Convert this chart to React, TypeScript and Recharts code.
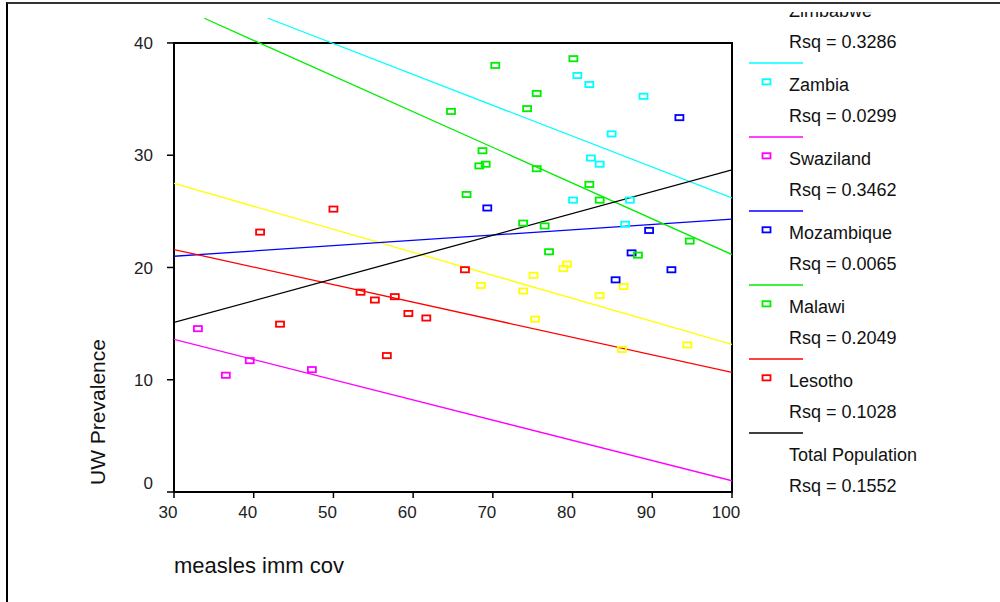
import React from 'react'
import { ComposedChart, Scatter, XAxis, YAxis, ReferenceArea } from 'recharts'

// groups in legend order (top to bottom)
const GROUPS = ['Zimbabwe', 'Zambia', 'Swaziland', 'Mozambique', 'Malawi', 'Lesotho', 'Total Population']
const RSQ = ['0.3286', '0.0299', '0.3462', '0.0065', '0.2049', '0.1028', '0.1552']
const COLORS = ['#ffff00', '#00ffff', '#ff00ff', '#0000ff', '#00ee00', '#ff0000', '#000000']

const X_TICKS = [30, 40, 50, 60, 70, 80, 90, 100]
const Y_TICKS = [0, 10, 20, 30, 40]

// measles imm cov vs UW prevalence, by country
const zimbabwe = [
  { x: 79.3, y: 20.3 }, { x: 78.85, y: 19.9 }, { x: 75.1, y: 19.3 }, { x: 68.5, y: 18.4 },
  { x: 73.8, y: 17.9 }, { x: 86.4, y: 18.3 }, { x: 83.4, y: 17.5 }, { x: 75.3, y: 15.4 },
  { x: 86.2, y: 12.7 }, { x: 94.4, y: 13.1 },
]
const zambia = [
  { x: 80.6, y: 37.1 }, { x: 82.1, y: 36.3 }, { x: 88.9, y: 35.25 }, { x: 84.9, y: 31.9 },
  { x: 82.3, y: 29.75 }, { x: 83.4, y: 29.2 }, { x: 80.06, y: 26.0 }, { x: 87.2, y: 26.0 },
  { x: 86.6, y: 23.85 },
]
const swaziland = [
  { x: 33.0, y: 14.55 }, { x: 39.5, y: 11.7 }, { x: 36.5, y: 10.4 }, { x: 47.3, y: 10.9 },
]
const mozambique = [
  { x: 93.4, y: 33.35 }, { x: 69.3, y: 25.3 }, { x: 89.6, y: 23.3 }, { x: 87.4, y: 21.3 },
  { x: 92.4, y: 19.8 }, { x: 85.4, y: 18.9 },
]
const malawi = [
  { x: 70.3, y: 38.0 }, { x: 80.1, y: 38.6 }, { x: 75.5, y: 35.5 }, { x: 64.75, y: 33.9 },
  { x: 74.3, y: 34.15 }, { x: 68.7, y: 30.4 }, { x: 68.3, y: 29.05 }, { x: 69.1, y: 29.2 },
  { x: 75.5, y: 28.8 }, { x: 82.1, y: 27.4 }, { x: 66.7, y: 26.5 }, { x: 83.4, y: 26.0 },
  { x: 73.8, y: 23.95 }, { x: 76.5, y: 23.7 }, { x: 94.7, y: 22.35 }, { x: 77.05, y: 21.4 },
  { x: 88.2, y: 21.1 },
]
const lesotho = [
  { x: 50.0, y: 25.2 }, { x: 40.8, y: 23.15 }, { x: 66.5, y: 19.8 }, { x: 53.4, y: 17.8 },
  { x: 55.2, y: 17.1 }, { x: 57.7, y: 17.4 }, { x: 59.4, y: 15.9 }, { x: 61.65, y: 15.5 },
  { x: 43.3, y: 14.95 }, { x: 56.7, y: 12.15 },
]

// fitted lines (endpoints)
const zimbabweFit = [{ x: 30, y: 27.5 }, { x: 100, y: 13.15 }]
const zambiaFit = [{ x: 41.8, y: 42.2 }, { x: 100, y: 26.2 }]
const swazilandFit = [{ x: 30, y: 13.6 }, { x: 100, y: 1.0 }]
const mozambiqueFit = [{ x: 30, y: 21.0 }, { x: 100, y: 24.3 }]
const malawiFit = [{ x: 33.8, y: 42.2 }, { x: 100, y: 21.15 }]
const lesothoFit = [{ x: 30, y: 21.6 }, { x: 100, y: 10.65 }]
const totalFit = [{ x: 30, y: 15.1 }, { x: 100, y: 28.7 }]

const POINTS = [zimbabwe, zambia, swaziland, mozambique, malawi, lesotho]
const FITS = [zimbabweFit, zambiaFit, swazilandFit, mozambiqueFit, malawiFit, lesothoFit, totalFit]

const FONT = "'Liberation Sans', Arial, sans-serif"

const square = (color: string) => (props: any) => (
  <rect x={props.cx - 4} y={props.cy - 2.6} width={8} height={5.2} fill="none" stroke={color} strokeWidth={1.8} />
)
const noDot = () => <g />

const XTick = ({ x, y, payload }: any) => (
  <text x={x - 6} y={y} dy="0.71em" textAnchor="middle" fontSize={17} fill="#222" fontFamily={FONT}>
    {payload.value}
  </text>
)

const YTick = ({ x, y, payload }: any) => (
  <text x={x} y={y + (payload.value === 0 ? -9 : 0)} dy="0.355em" textAnchor="end" fontSize={17} fill="#222" fontFamily={FONT}>
    {payload.value}
  </text>
)

const XTitle = ({ viewBox }: any) => (
  <text x={viewBox.x} y={viewBox.y + 81} fontSize={22} fill="#111" fontFamily={FONT}>measles imm cov</text>
)

const YTitle = ({ viewBox }: any) => {
  const cx = viewBox.x - 9
  const cy = viewBox.y + viewBox.height - 80
  return (
    <text x={cx} y={cy} transform={`rotate(-90, ${cx}, ${cy})`} textAnchor="middle" fontSize={21} fill="#111" fontFamily={FONT}>
      UW Prevalence
    </text>
  )
}

function Legend() {
  const STEP = 74
  const FIRST_LINE = -11
  return (
    <svg width={260} height={590} style={{ position: 'absolute', left: 740, top: 12 }}>
      <g transform="translate(0,-12)" fontFamily={FONT} fontSize={18} fill="#111">
        {GROUPS.map((name, i) => {
          const ly = FIRST_LINE + i * STEP
          return (
            <g key={name}>
              <line x1={9} x2={63} y1={ly} y2={ly} stroke={COLORS[i]} strokeWidth={1.5} />
              {i < POINTS.length && (
                <rect x={22.5} y={ly + 16.2} width={8} height={5.2} fill="none" stroke={COLORS[i]} strokeWidth={1.8} />
              )}
              <text x={49} y={ly + 27.5}>{name}</text>
              <text x={49} y={ly + 58.5}>Rsq = {RSQ[i]}</text>
            </g>
          )
        })}
      </g>
    </svg>
  )
}

export default function App() {
  return (
    <div style={{ position: 'absolute', left: 0, top: 0, width: 1000, height: 602, background: '#fff', overflow: 'hidden', fontFamily: FONT }}>
      <div style={{ position: 'absolute', left: 6, top: 2, width: 1000, height: 610, borderTop: '2px solid #333', borderLeft: '2px solid #000' }} />
      <ComposedChart
        width={1000}
        height={602}
        margin={{ top: 17.7, right: 268, bottom: 80, left: 114 }}
        style={{ position: 'absolute', left: 0, top: 0 }}
      >
        <XAxis
          type="number"
          dataKey="x"
          domain={[30, 100]}
          ticks={X_TICKS}
          allowDataOverflow
          axisLine={false}
          tickSize={6}
          tickMargin={8}
          tickLine={{ stroke: '#000', strokeWidth: 1.5 }}
          tick={XTick}
          height={30}
          label={XTitle}
        />
        <YAxis
          type="number"
          dataKey="y"
          domain={[0, 42.25]}
          ticks={Y_TICKS}
          allowDataOverflow
          axisLine={false}
          tickSize={7}
          tickMargin={14}
          tickLine={{ stroke: '#000', strokeWidth: 1.5 }}
          tick={YTick}
          width={60}
          label={YTitle}
        />
        <ReferenceArea x1={30} x2={100} y1={0} y2={40} fill="none" stroke="#000" strokeWidth={2} ifOverflow="visible" />
        {FITS.map((fit, i) => (
          <Scatter
            key={`fit-${GROUPS[i]}`}
            data={fit}
            shape={noDot}
            line={{ stroke: COLORS[i], strokeWidth: 1.3 }}
            lineType="joint"
            isAnimationActive={false}
          />
        ))}
        {POINTS.map((pts, i) => (
          <Scatter key={`pts-${GROUPS[i]}`} data={pts} shape={square(COLORS[i])} isAnimationActive={false} />
        ))}
      </ComposedChart>
      <Legend />
    </div>
  )
}
